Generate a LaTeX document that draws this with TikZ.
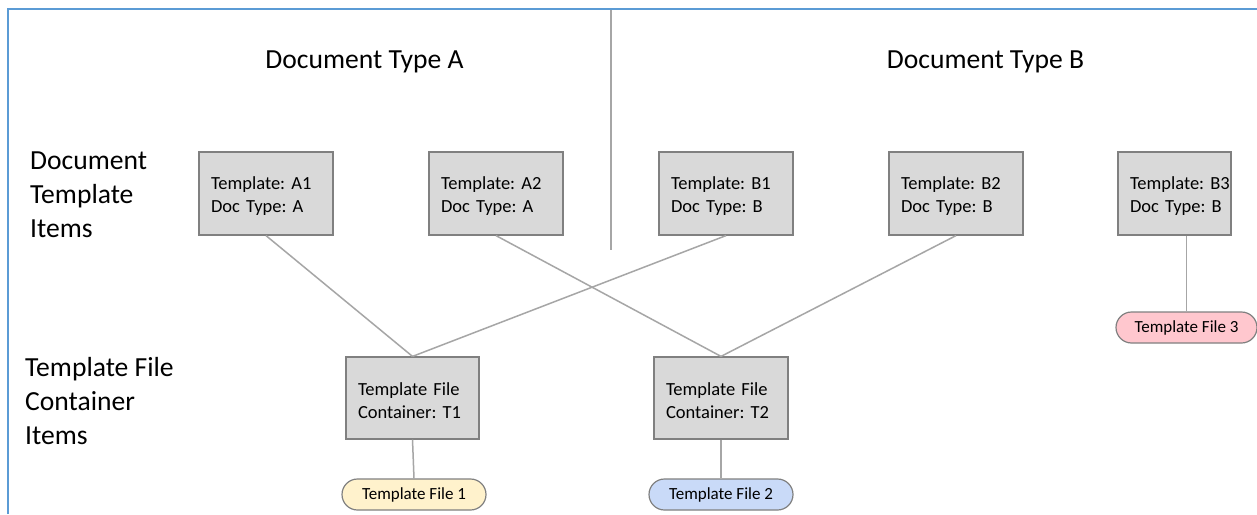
\documentclass[tikz,border=0pt]{standalone}
\usepackage{fontspec}
\setmainfont{Carlito}
\frenchspacing
\definecolor{frameblue}{HTML}{5B9BD5}
\definecolor{boxfill}{HTML}{D9D9D9}
\definecolor{boxline}{HTML}{808080}
\definecolor{linkgray}{HTML}{A6A6A6}
\definecolor{fileyellow}{HTML}{FFF2CC}
\definecolor{fileblue}{HTML}{C9DAF8}
\definecolor{filepink}{HTML}{FFC7CE}
\tikzset{
  itembox/.style={draw=boxline, line width=1.2pt, fill=boxfill, minimum height=83pt,
    inner xsep=12pt, inner ysep=0pt, align=left,
    font=\fontsize{18.5}{22.5}\selectfont\frenchspacing,
    execute at begin node={\rule{0pt}{18pt}}},
  filepill/.style={draw=boxline, line width=1.2pt, rounded corners=15.5pt,
    minimum width=144pt, minimum height=31pt, inner sep=0pt,
    font=\fontsize{17}{20}\selectfont},
  link/.style={draw=linkgray, line width=1.5pt},
  heading/.style={font=\fontsize{27.6}{34}\selectfont, inner sep=0pt},
  rowlabel/.style={font=\fontsize{27.6}{34}\selectfont, inner sep=0pt, align=left, anchor=north west},
}
\begin{document}
\begin{tikzpicture}[x=1pt, y=-1pt]
\useasboundingbox (0,0) rectangle (1257,514);
\fill[white] (0,0) rectangle (1257,514);
% frame
\draw[frameblue, line width=2pt] (8,514) -- (8,9) -- (1257,9);
% divider
\coordinate (dtop) at (611,10);
\coordinate (dbot) at (611,250);
\draw[linkgray, line width=2pt] (dtop) -- (dbot);
% headings
\node[heading, anchor=base] (hA) at (364.5,68) {Document Type A};
\node[heading, anchor=base] (hB) at (985.5,68) {Document Type B};
% row labels
\node[rowlabel] (lab1) at (30,152) {Document\\Template\\Items};
\node[rowlabel] (lab2) at (25,357) {Template File\\Container\\Items};
% template items
\node[itembox, text width=110pt] (a1) at (266,193.5) {Template: A1\\Doc Type: A};
\node[itembox, text width=110pt] (a2) at (496,193.5) {Template: A2\\Doc Type: A};
\node[itembox, text width=110pt] (b1) at (726,193.5) {Template: B1\\Doc Type: B};
\node[itembox, text width=110pt] (b2) at (956,193.5) {Template: B2\\Doc Type: B};
\node[itembox, text width=89pt] (b3) at (1174.5,193.5) {Template:~B3\\Doc~Type:~B};
% containers
\node[itembox, text width=109pt, minimum height=82pt] (t1) at (412.5,398) {Template File\\Container: T1};
\node[itembox, text width=110pt, minimum height=82pt] (t2) at (721,398) {Template File\\Container: T2};
% files
\node[filepill, fill=fileyellow] (f1) at (414,494.5) {Template File 1};
\node[filepill, fill=fileblue] (f2) at (721,494.5) {Template File 2};
\node[filepill, fill=filepink, minimum width=141pt] (f3) at (1186.5,327.5) {Template File 3};
% links
\draw[link] (a1.south) -- (t1.north);
\draw[link] (b1.south) -- (t1.north);
\draw[link] (a2.south) -- (t2.north);
\draw[link] (b2.south) -- (t2.north);
\draw[link] (t1.south) -- (f1.north);
\draw[link] (t2.south) -- (f2.north);
\draw[link] (b3.south -| f3.north) -- (f3.north);
\end{tikzpicture}
\end{document}
